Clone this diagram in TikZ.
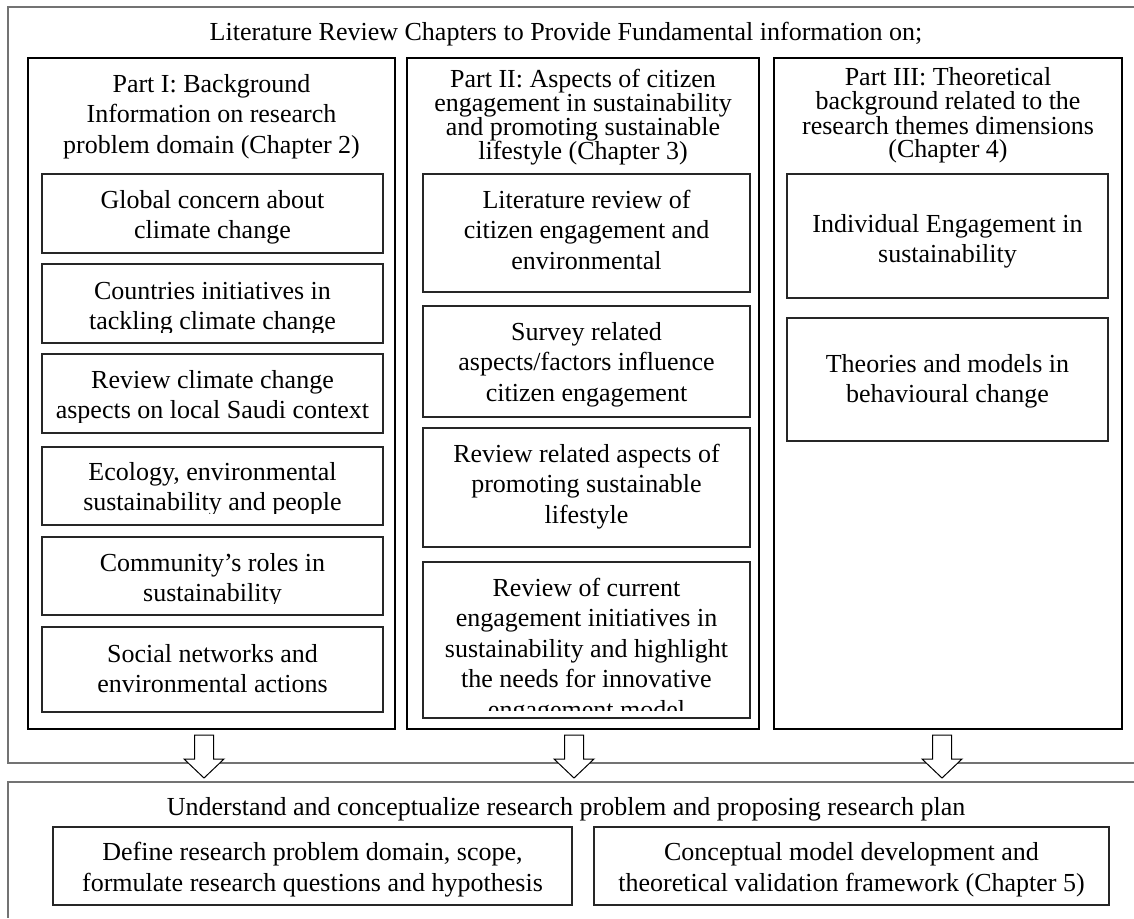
\documentclass[tikz,border=0pt]{standalone}
\usepackage{fontspec}
\setmainfont{Liberation Serif}
\tikzset{
  frameline/.style={draw=black!55, line width=1.6pt},
  colline/.style={draw=black, line width=1.2pt},
  boxline/.style={draw=black!85, line width=1.1pt},
  txt/.style={font=\fontsize{26}{30.5}\selectfont, align=center, inner sep=0pt, anchor=base},
  blockarrow/.style={draw=black, fill=white, line width=1pt, line join=miter},
}
% #1 name, #2 x1, #3 y1, #4 x2, #5 y2, #6 clip line, #7 baseline of the last line, #8 text
\newcommand\textbox[8]{%
  \draw[boxline] (#2,#3) rectangle (#4,#5);
  \begin{scope}
    \clip (#2,#3) rectangle (#4,#6);
    \node[txt] (#1) at ({(#2+#4)/2},#7) {#8};
  \end{scope}}
% down-pointing block arrow centred at x = #1
\newcommand\blockdown[1]{%
  \draw[blockarrow] (#1-9.5,735) -- (#1+9.5,735) -- (#1+9.5,759) -- (#1+20,759)
    -- (#1,778) -- (#1-20,759) -- (#1-9.5,759) -- cycle;}
\begin{document}
\begin{tikzpicture}[x=1pt,y=-1pt]
\useasboundingbox (0,0) rectangle (1134,918);
\fill[white] (0,0) rectangle (1134,918);

% upper frame (open to the right)
\draw[frameline] (1134,7) -- (8,7) -- (8,763) -- (1134,763);
\node[txt] (title) at (566,40) {Literature Review Chapters to Provide Fundamental information on;};

% three chapter columns
\draw[colline] (28,58) rectangle (395,729);
\draw[colline] (407,58) rectangle (759,729);
\draw[colline] (774,58) rectangle (1122,729);

\node[txt] (partI) at (211.5,153) {Part I: Background\\Information on research\\problem domain (Chapter 2)};
\node[txt, font=\fontsize{26}{24}\selectfont] (partII) at (583,159)
  {Part II: Aspects of citizen\\engagement in sustainability\\and promoting sustainable\\lifestyle (Chapter 3)};
\node[txt, font=\fontsize{26}{23.5}\selectfont] (partIII) at (948,157.5)
  {Part III: Theoretical\\background related to the\\research themes dimensions\\(Chapter 4)};

% Part I items
\textbox{a1}{42}{174}{383}{253}{247}{238.5}{Global concern about\\climate change}
\textbox{a2}{42}{264}{383}{343}{332}{329.5}{Countries initiatives in\\tackling climate change}
\textbox{a3}{42}{354}{383}{433}{422}{418.5}{Review climate change\\aspects on local Saudi context}
\textbox{a4}{42}{447}{383}{525}{513}{510.5}{Ecology, environmental\\sustainability and people}
\textbox{a5}{42}{537}{383}{615}{603}{601.5}{Community’s roles in\\sustainability}
\textbox{a6}{42}{627}{383}{712}{710}{692.5}{Social networks and\\environmental actions}

% Part II items
\textbox{b1}{423}{174}{750}{292}{290}{269}{Literature review of\\citizen engagement and\\environmental}
\textbox{b2}{423}{306}{750}{417}{415}{401}{Survey related\\aspects/factors influence\\citizen engagement}
\textbox{b3}{423}{428}{750}{547}{545}{523}{Review related aspects of\\promoting sustainable\\lifestyle}
\textbox{b4}{423}{562}{750}{718}{710}{718}{Review of current\\engagement initiatives in\\sustainability and highlight\\the needs for innovative\\engagement model}

% Part III items
\textbox{c1}{787}{174}{1108}{298}{296}{262.5}{Individual Engagement in\\sustainability}
\textbox{c2}{787}{318}{1108}{441}{439}{402.5}{Theories and models in\\behavioural change}

% arrows down to the lower frame
\blockdown{204}
\blockdown{574}
\blockdown{942}

% lower frame (open to the right and below)
\draw[frameline] (1134,782) -- (8,782) -- (8,918);
\node[txt] (plan) at (566,815) {Understand and conceptualize research problem and proposing research plan};
\textbox{d1}{53}{827}{572}{905}{903}{891}{Define research problem domain, scope,\\formulate research questions and hypothesis}
\textbox{d2}{594}{827}{1109}{905}{903}{891}{Conceptual model development and\\theoretical validation framework (Chapter 5)}
\end{tikzpicture}
\end{document}
